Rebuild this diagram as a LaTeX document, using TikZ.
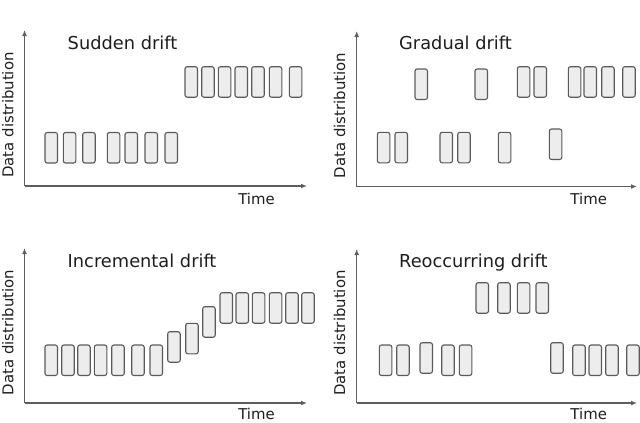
\documentclass[tikz,border=0pt]{standalone}
\usepackage{fontspec}
\setmainfont{DejaVu Sans}
\usetikzlibrary{arrows.meta}
\definecolor{blkfill}{HTML}{EDEDED}
\definecolor{blkline}{HTML}{5A5A5A}
\definecolor{axline}{HTML}{5E5E5E}
\definecolor{txt}{HTML}{1E1E1E}
\begin{document}
\begin{tikzpicture}[x=1pt,y=-1pt,
  blk/.style={draw=blkline,fill=blkfill,line width=1.1pt,rounded corners=2.2pt},
  ax/.style={draw=axline,line width=1.2pt,-{Latex[length=6pt,width=5pt]}},
  ttl/.style={anchor=base west,inner sep=0pt,text=txt,font=\fontsize{17.8}{20}\selectfont},
  lbl/.style={anchor=base,inner sep=0pt,text=txt,font=\fontsize{14.9}{17}\selectfont}]
\useasboundingbox (0,0) rectangle (640,423);
\pgfmathsetmacro{\w}{12.5}
\pgfmathsetmacro{\h}{30.5}
\coordinate (o1) at (24.5,186);
\coordinate (ye1) at (24.5,30);
\coordinate (xe1) at (307,186);
\coordinate (o2) at (356.7,186.5);
\coordinate (ye2) at (356.7,31);
\coordinate (xe2) at (637,186.5);
\coordinate (o3) at (24.5,403);
\coordinate (ye3) at (24.5,248);
\coordinate (xe3) at (307,403);
\coordinate (o4) at (356.7,403);
\coordinate (ye4) at (356.7,249);
\coordinate (xe4) at (637,403);
\foreach \i in {1,2,3,4}{
  \draw[ax] (o\i)--(ye\i);
  \draw[ax] (o\i)--(xe\i);
}
\node[lbl,rotate=90] (dd1) at (13.3,115) {Data distribution};
\node[lbl,rotate=90] (dd2) at (345,115.5) {Data distribution};
\node[lbl,rotate=90] (dd3) at (13.3,332.5) {Data distribution};
\node[lbl,rotate=90] (dd4) at (345,333) {Data distribution};
\node[lbl] (tm1) at (256.5,204) {Time};
\node[lbl] (tm2) at (588.7,204) {Time};
\node[lbl] (tm3) at (256.5,419.5) {Time};
\node[lbl] (tm4) at (588.7,419.5) {Time};
\node[ttl] (sudden) at (67.5,49.3) {Sudden drift};
\node[ttl] (gradual) at (399,49.3) {Gradual drift};
\node[ttl] (incr) at (67.5,267.3) {Incremental drift};
\node[ttl] (reocc) at (399,267.3) {Reoccurring drift};
\foreach \x in {45,63.3,82.7,107.3,125,145,165}
  \draw[blk] (\x,132.5) rectangle ++(\w,\h);
\foreach \x in {185,201.7,218.3,235,251.7,269.3,289.3}
  \draw[blk] (\x,66.7) rectangle ++(\w,\h);
\foreach \x/\y in {415/69,475/69,517.3/66.7,534/66.7,568.3/66.7,584/66.7,601.7/66.7,622.7/66.7,
  377.3/132.3,395/132.3,440/132.3,457.7/132.3,498.3/132.3,549.3/129}
  \draw[blk] (\x,\y) rectangle ++(\w,\h);
\foreach \x/\y in {45/345,61.7/345,77.7/345,94.3/345,111.7/345,131.7/345,150/345,
  167.7/331.7,185.7/323.3,202.7/306.7,
  220/292.7,236/292.7,252.3/292.7,269.3/292.7,285.7/292.7,301.7/292.7}
  \draw[blk] (\x,\y) rectangle ++(\w,\h);
\foreach \x/\y in {476/282.7,497.7/282.7,517.3/282.7,536/282.7,
  379.3/345,396.7/345,420/342.7,441.7/345,459.3/345,
  550.7/342.7,572.7/345,589/345,605.7/345,626.7/345}
  \draw[blk] (\x,\y) rectangle ++(\w,\h);
\end{tikzpicture}
\end{document}
